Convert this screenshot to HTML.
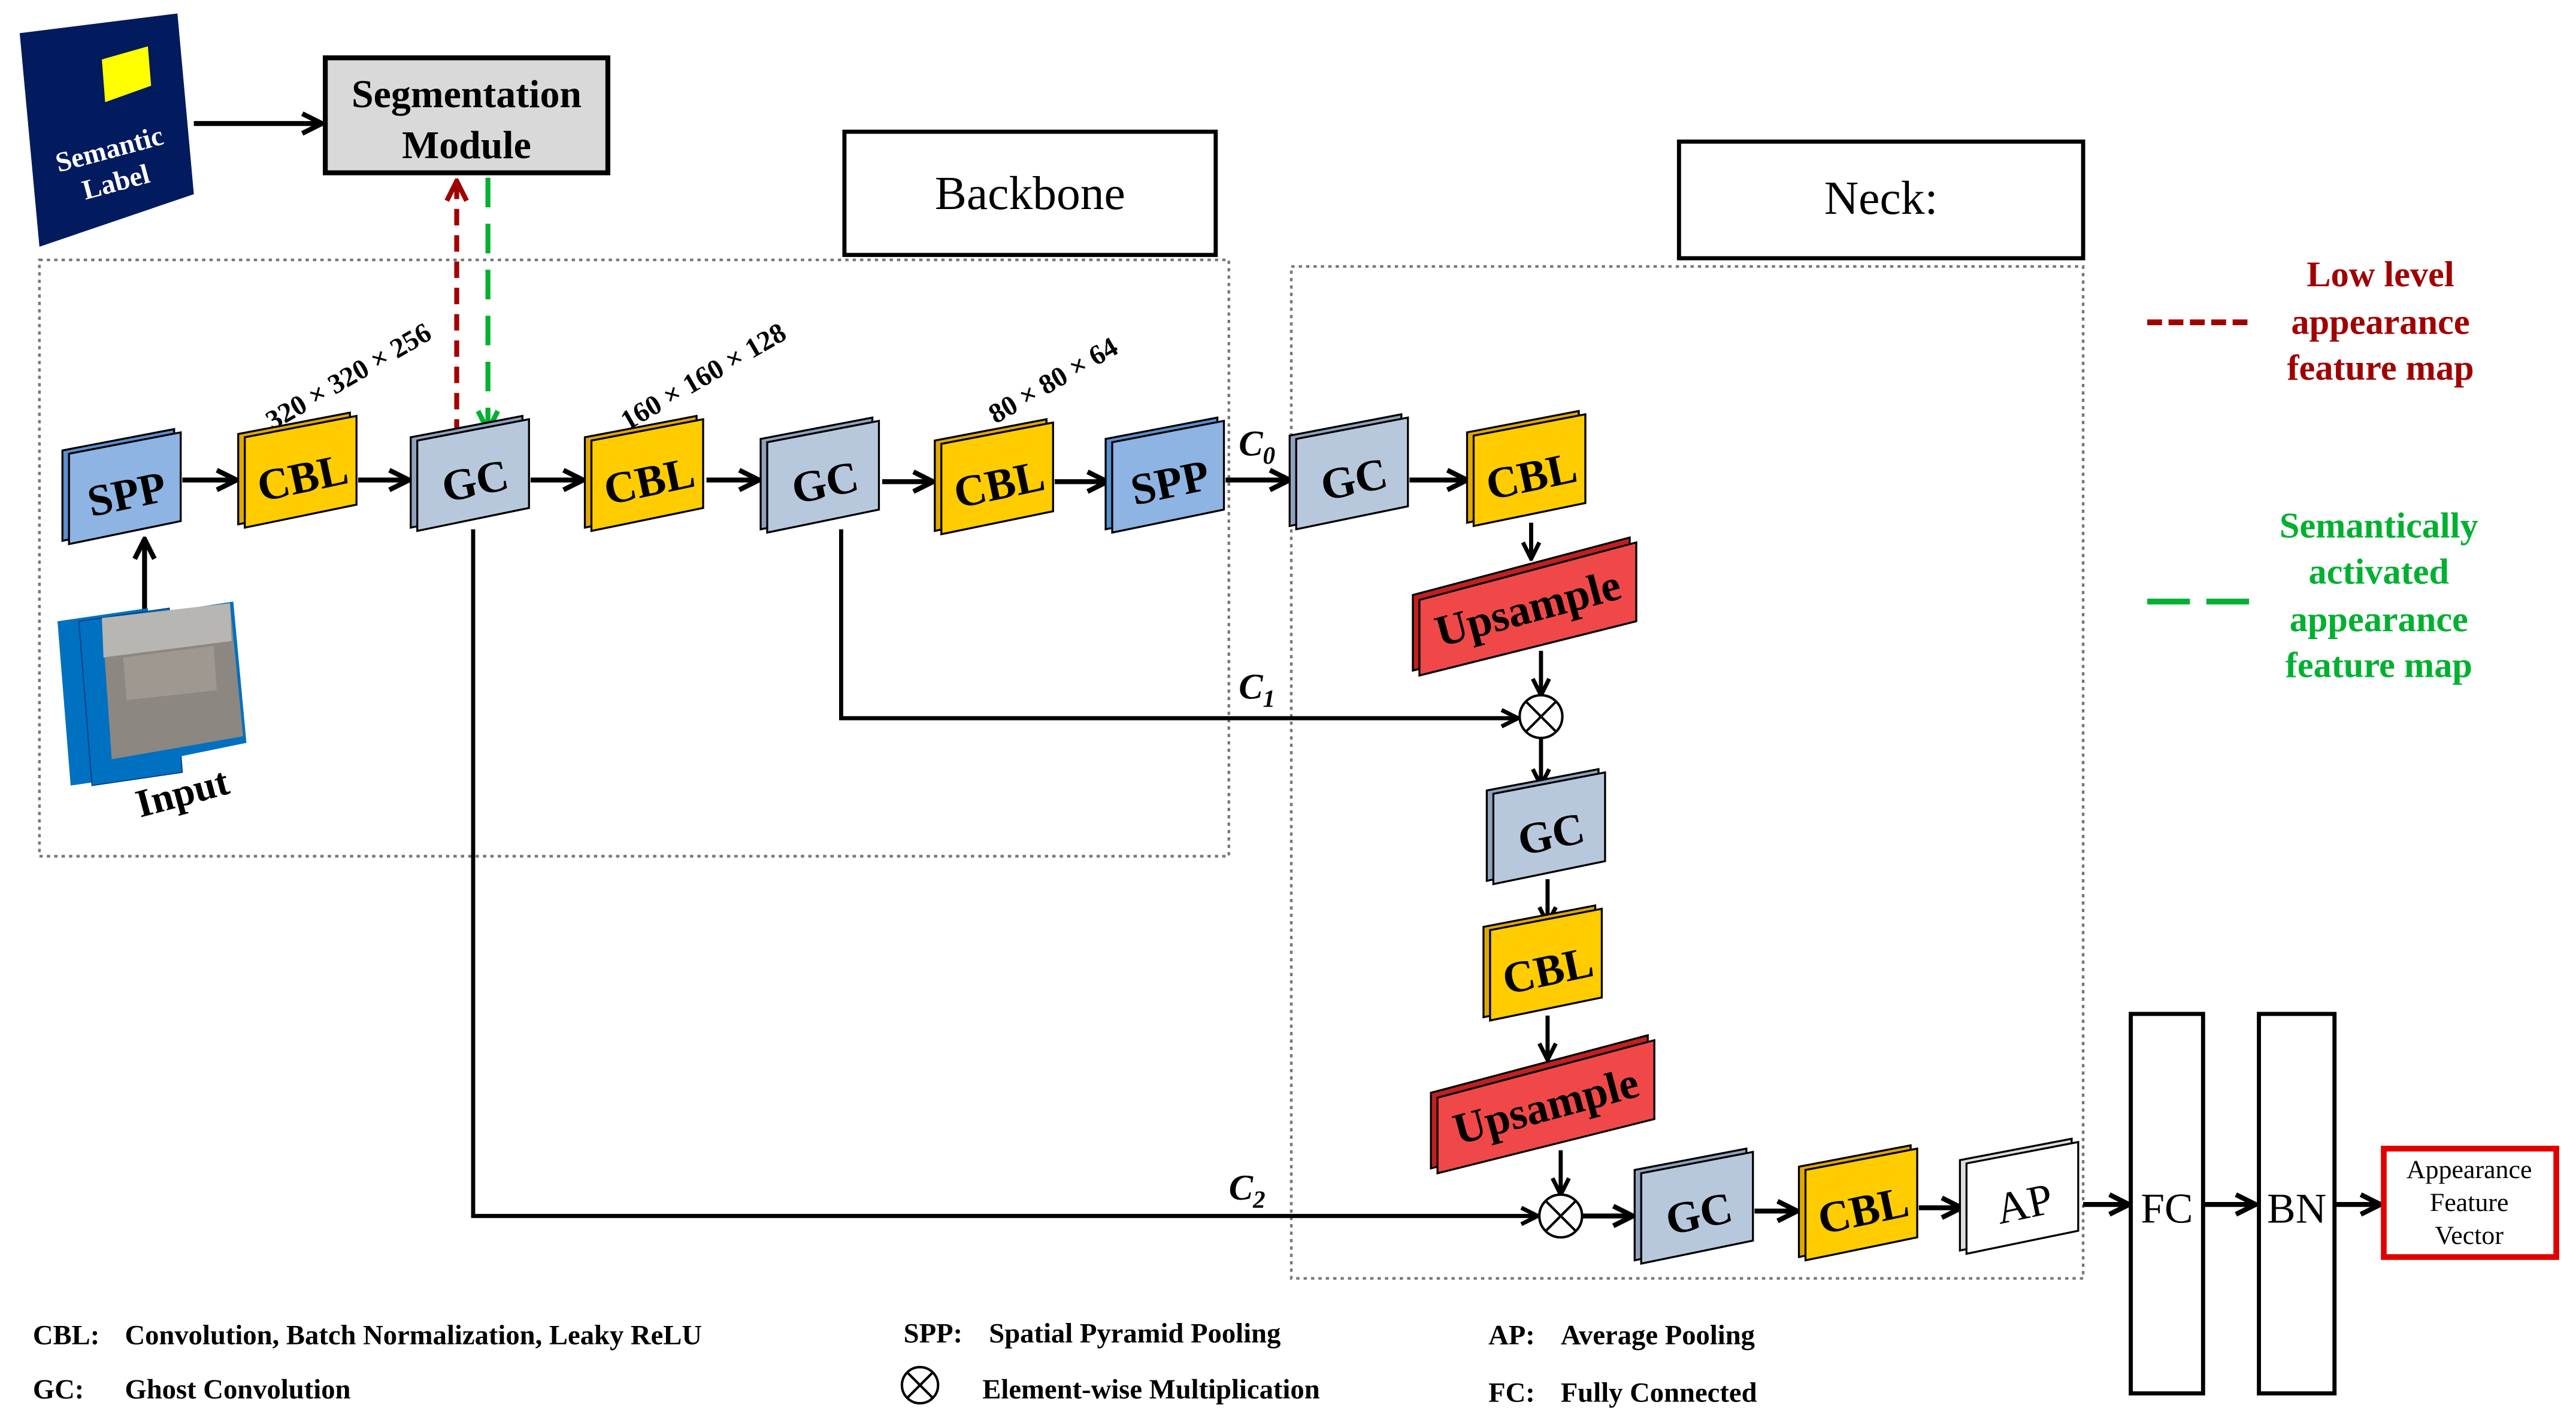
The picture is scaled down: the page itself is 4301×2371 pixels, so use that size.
<!DOCTYPE html>
<html><head><meta charset="utf-8"><style>html,body{margin:0;padding:0;background:#fff}svg{display:block}</style></head><body>
<svg width="4301" height="2371" viewBox="0 0 1568 864" xmlns="http://www.w3.org/2000/svg" font-family="Liberation Serif, serif">
<defs>
<marker id="ar" viewBox="0 0 10 10" refX="9" refY="5" markerWidth="5" markerHeight="5" orient="auto"><path d="M1,1 L9,5 L1,9" fill="none" stroke="#000" stroke-width="2"/></marker>
<marker id="arR" viewBox="0 0 10 10" refX="9" refY="5" markerWidth="5" markerHeight="5" orient="auto"><path d="M1,1 L9,5 L1,9" fill="none" stroke="#a00000" stroke-width="2"/></marker>
<marker id="arG" viewBox="0 0 10 10" refX="9" refY="5" markerWidth="5" markerHeight="5" orient="auto"><path d="M1,1 L9,5 L1,9" fill="none" stroke="#00b030" stroke-width="2"/></marker>
<polygon id="bk" points="-37,-26 31,-39 31,15 -37,29" stroke="#000" stroke-width="1.2"/>
<polygon id="fr" points="-33,-24 35,-37 35,17 -33,31" stroke="#000" stroke-width="1.2"/>
<polygon id="ubk" points="-70,-8 62,-43 62,5 -70,38" stroke="#000" stroke-width="1.2"/>
<polygon id="ufr" points="-66,-5 66,-40 66,8 -66,41" stroke="#000" stroke-width="1.2"/>
</defs>
<rect width="1568" height="864" fill="#fff"/>

<rect x="24" y="158" width="724" height="363" fill="none" stroke="#777" stroke-width="1.6" stroke-dasharray="2,2.5"/>
<rect x="786" y="162" width="482" height="616" fill="none" stroke="#777" stroke-width="1.6" stroke-dasharray="2,2.5"/>
<rect x="514" y="80" width="226" height="75" fill="#fff" stroke="#000" stroke-width="2.5"/>
<text x="627" y="127" font-size="29" text-anchor="middle">Backbone</text>
<rect x="1022" y="86" width="246" height="71" fill="#fff" stroke="#000" stroke-width="2.5"/>
<text x="1145" y="130" font-size="29" text-anchor="middle">Neck:</text>

<polygon points="12,20 108,8 118,118 24,150" fill="#021a5e"/>
<polygon points="62,36 90,28 92,52 64,62" fill="#ffff00"/>
<text x="68" y="96" font-size="17" font-weight="bold" fill="#fff" text-anchor="middle" transform="rotate(-15 68 96)">Semantic</text>
<text x="72" y="116" font-size="17" font-weight="bold" fill="#fff" text-anchor="middle" transform="rotate(-15 72 116)">Label</text>
<line x1="118" y1="75" x2="196" y2="75" stroke="#000" stroke-width="3" marker-end="url(#ar)"/>
<rect x="198" y="35" width="172" height="70" fill="#d9d9d9" stroke="#000" stroke-width="3"/>
<text x="284" y="65" font-size="24" font-weight="bold" text-anchor="middle">Segmentation</text>
<text x="284" y="96" font-size="24" font-weight="bold" text-anchor="middle">Module</text>
<line x1="278" y1="265" x2="278" y2="110" stroke="#a00000" stroke-width="3" stroke-dasharray="10,6" marker-end="url(#arR)"/>
<line x1="297" y1="108" x2="297" y2="262" stroke="#00b030" stroke-width="3" stroke-dasharray="18,10" marker-end="url(#arG)"/>

<g stroke="#000" stroke-width="3" fill="none">
<line x1="88" y1="375" x2="88" y2="328" marker-end="url(#ar)"/>
<line x1="111" y1="292" x2="144" y2="292" marker-end="url(#ar)"/>
<line x1="218" y1="292" x2="249" y2="292" marker-end="url(#ar)"/>
<line x1="323" y1="292" x2="355" y2="292" marker-end="url(#ar)"/>
<line x1="430" y1="292" x2="462" y2="292" marker-end="url(#ar)"/>
<line x1="537" y1="293" x2="568" y2="293" marker-end="url(#ar)"/>
<line x1="642" y1="293" x2="674" y2="293" marker-end="url(#ar)"/>
<line x1="746" y1="292" x2="785" y2="292" marker-end="url(#ar)"/>
<line x1="858" y1="292" x2="893" y2="292" marker-end="url(#ar)"/>
<line x1="1268" y1="733" x2="1296" y2="733" marker-end="url(#ar)"/>
<line x1="1342" y1="733" x2="1373" y2="733" marker-end="url(#ar)"/>
<line x1="1422" y1="733" x2="1449" y2="733" marker-end="url(#ar)"/>
<line x1="962" y1="740" x2="994" y2="740" marker-end="url(#ar)"/>
<line x1="1068" y1="737" x2="1094" y2="737" marker-end="url(#ar)"/>
<line x1="1168" y1="735" x2="1194" y2="735" marker-end="url(#ar)"/>
</g>
<g stroke="#000" stroke-width="2.5" fill="none">
<polyline points="512,322 512,437 924,437" marker-end="url(#ar)"/>
<polyline points="288,322 288,740 936,740" marker-end="url(#ar)"/>
<line x1="932" y1="318" x2="932" y2="340" marker-end="url(#ar)"/>
<line x1="938" y1="396" x2="938" y2="423" marker-end="url(#ar)"/>
<line x1="938" y1="449" x2="938" y2="478" marker-end="url(#ar)"/>
<line x1="942" y1="535" x2="942" y2="562" marker-end="url(#ar)"/>
<line x1="942" y1="618" x2="942" y2="645" marker-end="url(#ar)"/>
<line x1="950" y1="700" x2="950" y2="727" marker-end="url(#ar)"/>
</g>
<g fill="#fff" stroke="#000" stroke-width="1.5">
<circle cx="938" cy="436" r="13"/><path d="M929,427 L947,445 M947,427 L929,445"/>
<circle cx="950" cy="740" r="13"/><path d="M941,731 L959,749 M959,731 L941,749"/>
</g>
<g font-size="22" font-weight="bold" font-style="italic">
<text x="754" y="277">C<tspan font-size="15" dy="5">0</tspan></text>
<text x="754" y="425">C<tspan font-size="15" dy="5">1</tspan></text>
<text x="748" y="730">C<tspan font-size="15" dy="5">2</tspan></text>
</g>
<g font-size="17" font-weight="bold">
<text transform="translate(166,262) rotate(-30)">320 × 320 × 256</text>
<text transform="translate(382,262) rotate(-30)">160 × 160 × 128</text>
<text transform="translate(606,258) rotate(-30)">80 × 80 × 64</text>
</g>

<polygon points="35,378 90,370 98,470 43,478" fill="#0070c0"/>
<polygon points="48,378 103,370 111,470 56,478" fill="#0070c0" stroke="#003a80" stroke-width="0.6"/>
<polygon points="64,378 142,366 150,452 72,468" fill="#0070c0"/>
<polygon points="62,376 140,367 148,448 68,462" fill="#8c8780"/>
<polygon points="62,376 140,367 141,390 63,400" fill="#b8b6b2"/>
<polygon points="75,400 130,393 132,420 77,426" fill="#9e9890"/>
<text x="113" y="490" font-size="24" font-weight="bold" text-anchor="middle" transform="rotate(-15 113 490)">Input</text>

<g font-size="27" font-weight="bold" text-anchor="middle">
<g transform="translate(75,300)"><use href="#bk" fill="#5b8fd0"/><use href="#fr" fill="#8db4e2"/><text x="2" y="10" transform="rotate(-12)">SPP</text></g>
<g transform="translate(182,290)"><use href="#bk" fill="#e0a800"/><use href="#fr" fill="#ffcc00"/><text x="2" y="10" transform="rotate(-12)">CBL</text></g>
<g transform="translate(287,292)"><use href="#bk" fill="#8fa2bd"/><use href="#fr" fill="#b8c8dc"/><text x="2" y="10" transform="rotate(-12)">GC</text></g>
<g transform="translate(393,292)"><use href="#bk" fill="#e0a800"/><use href="#fr" fill="#ffcc00"/><text x="2" y="10" transform="rotate(-12)">CBL</text></g>
<g transform="translate(500,293)"><use href="#bk" fill="#8fa2bd"/><use href="#fr" fill="#b8c8dc"/><text x="2" y="10" transform="rotate(-12)">GC</text></g>
<g transform="translate(606,294)"><use href="#bk" fill="#e0a800"/><use href="#fr" fill="#ffcc00"/><text x="2" y="10" transform="rotate(-12)">CBL</text></g>
<g transform="translate(710,293)"><use href="#bk" fill="#5b8fd0"/><use href="#fr" fill="#8db4e2"/><text x="2" y="10" transform="rotate(-12)">SPP</text></g>
<g transform="translate(822,291)"><use href="#bk" fill="#8fa2bd"/><use href="#fr" fill="#b8c8dc"/><text x="2" y="10" transform="rotate(-12)">GC</text></g>
<g transform="translate(930,289)"><use href="#bk" fill="#e0a800"/><use href="#fr" fill="#ffcc00"/><text x="2" y="10" transform="rotate(-12)">CBL</text></g>
<g transform="translate(930,370)"><use href="#ubk" fill="#c02020"/><use href="#ufr" fill="#f04848"/><text x="0" y="9" transform="rotate(-15)">Upsample</text></g>
<g transform="translate(942,507)"><use href="#bk" fill="#8fa2bd"/><use href="#fr" fill="#b8c8dc"/><text x="2" y="10" transform="rotate(-12)">GC</text></g>
<g transform="translate(940,590)"><use href="#bk" fill="#e0a800"/><use href="#fr" fill="#ffcc00"/><text x="2" y="10" transform="rotate(-12)">CBL</text></g>
<g transform="translate(941,673)"><use href="#ubk" fill="#c02020"/><use href="#ufr" fill="#f04848"/><text x="0" y="9" transform="rotate(-15)">Upsample</text></g>
<g transform="translate(1032,738)"><use href="#bk" fill="#8fa2bd"/><use href="#fr" fill="#b8c8dc"/><text x="2" y="10" transform="rotate(-12)">GC</text></g>
<g transform="translate(1132,736)"><use href="#bk" fill="#e0a800"/><use href="#fr" fill="#ffcc00"/><text x="2" y="10" transform="rotate(-12)">CBL</text></g>
<g transform="translate(1230,732)"><use href="#bk" fill="#ddd"/><use href="#fr" fill="#fff"/><text x="2" y="10" transform="rotate(-12)" font-weight="normal">AP</text></g>
</g>

<rect x="1297" y="617" width="44" height="231" fill="#fff" stroke="#000" stroke-width="2.5"/>
<text x="1319" y="744" font-size="26" text-anchor="middle">FC</text>
<rect x="1375" y="617" width="46" height="231" fill="#fff" stroke="#000" stroke-width="2.5"/>
<text x="1398" y="744" font-size="26" text-anchor="middle">BN</text>
<rect x="1451" y="699" width="105" height="66" fill="#fff" stroke="#e00000" stroke-width="3.5"/>
<g font-size="16" text-anchor="middle"><text x="1503" y="717">Appearance</text><text x="1503" y="737">Feature</text><text x="1503" y="757">Vector</text></g>

<line x1="1307" y1="196" x2="1370" y2="196" stroke="#a00000" stroke-width="3.5" stroke-dasharray="9,4"/>
<g font-size="22" font-weight="bold" fill="#a00000" text-anchor="middle"><text x="1449" y="174">Low level</text><text x="1449" y="203">appearance</text><text x="1449" y="231">feature map</text></g>
<line x1="1307" y1="366" x2="1370" y2="366" stroke="#00b030" stroke-width="3.5" stroke-dasharray="26,10"/>
<g font-size="22" font-weight="bold" fill="#00b030" text-anchor="middle"><text x="1448" y="327">Semantically</text><text x="1448" y="355">activated</text><text x="1448" y="384">appearance</text><text x="1448" y="412">feature map</text></g>

<g font-size="17" font-weight="bold">
<text x="20" y="818">CBL:</text><text x="76" y="818">Convolution, Batch Normalization, Leaky ReLU</text>
<text x="20" y="851">GC:</text><text x="76" y="851">Ghost Convolution</text>
<text x="550" y="817">SPP:</text><text x="602" y="817">Spatial Pyramid Pooling</text>
<text x="598" y="851">Element-wise Multiplication</text>
<text x="906" y="818">AP:</text><text x="950" y="818">Average Pooling</text>
<text x="906" y="853">FC:</text><text x="950" y="853">Fully Connected</text>
</g>
<circle cx="560" cy="843" r="11" fill="none" stroke="#000" stroke-width="1.5"/><path d="M552,835 L568,851 M568,835 L552,851" stroke="#000" stroke-width="1.5"/>
</svg>
</body></html>
